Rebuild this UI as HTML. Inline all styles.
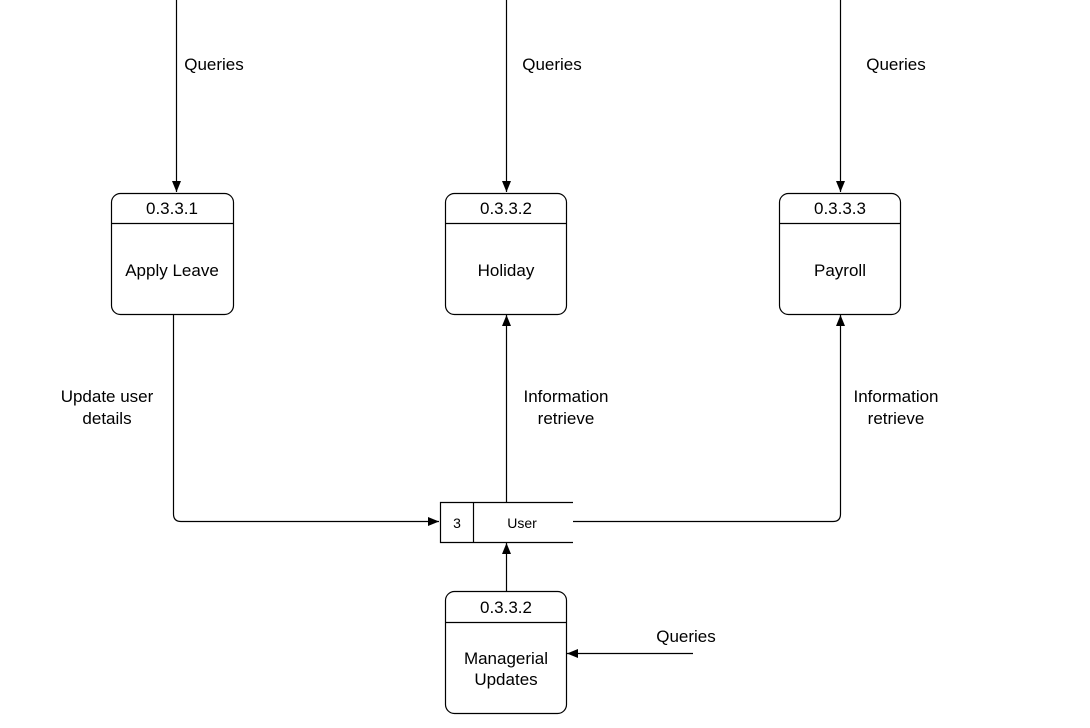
<!DOCTYPE html>
<html><head><meta charset="utf-8"><style>
html,body{margin:0;padding:0;background:#fff;}
svg{display:block;}
text{font-family:"Liberation Sans",Arial,sans-serif;fill:#000;}
</style></head><body>
<svg width="1090" height="728" viewBox="0 0 1090 728" xmlns="http://www.w3.org/2000/svg">
<defs>
<marker id="a" markerWidth="11" markerHeight="9" refX="11" refY="4.5" orient="auto" markerUnits="userSpaceOnUse">
<path d="M0,0 L11,4.5 L0,9 z" fill="#000"/></marker>
</defs>
<g fill="none" stroke="#000" stroke-width="1.2">
<line x1="176.5" y1="0" x2="176.5" y2="192" marker-end="url(#a)"/>
<line x1="506.5" y1="0" x2="506.5" y2="192" marker-end="url(#a)"/>
<line x1="840.5" y1="0" x2="840.5" y2="192" marker-end="url(#a)"/>
<rect x="111.5" y="193.5" width="122" height="121" rx="9"/>
<line x1="111.5" y1="223.5" x2="233.5" y2="223.5"/>
<rect x="445.5" y="193.5" width="121" height="121" rx="9"/>
<line x1="445.5" y1="223.5" x2="566.5" y2="223.5"/>
<rect x="779.5" y="193.5" width="121" height="121" rx="9"/>
<line x1="779.5" y1="223.5" x2="900.5" y2="223.5"/>
<rect x="445.5" y="591.5" width="121" height="122" rx="9"/>
<line x1="445.5" y1="622.5" x2="566.5" y2="622.5"/>
<path d="M173.5,314 V514 Q173.5,521.5 181,521.5 H439" marker-end="url(#a)"/>
<line x1="506.5" y1="502" x2="506.5" y2="315" marker-end="url(#a)"/>
<path d="M573,521.5 H833 Q840.5,521.5 840.5,514 V315" marker-end="url(#a)"/>
<line x1="506.5" y1="591" x2="506.5" y2="543" marker-end="url(#a)"/>
<line x1="693" y1="653.5" x2="567" y2="653.5" marker-end="url(#a)"/>
<path d="M573,502.5 H440.5 V542.5 H573"/>
<line x1="473.5" y1="502.5" x2="473.5" y2="542.5"/>
</g>
<g font-size="17" text-anchor="middle">
<text x="214" y="70">Queries</text>
<text x="552" y="70">Queries</text>
<text x="896" y="70">Queries</text>
<text x="172" y="214">0.3.3.1</text>
<text x="506" y="214">0.3.3.2</text>
<text x="840" y="214">0.3.3.3</text>
<text x="172" y="276">Apply Leave</text>
<text x="506" y="276">Holiday</text>
<text x="840" y="276">Payroll</text>
<text x="107" y="402">Update user</text>
<text x="107" y="424">details</text>
<text x="566" y="402">Information</text>
<text x="566" y="424">retrieve</text>
<text x="896" y="402">Information</text>
<text x="896" y="424">retrieve</text>
<text x="506" y="613">0.3.3.2</text>
<text x="506" y="664">Managerial</text>
<text x="506" y="685">Updates</text>
<text x="686" y="642">Queries</text>
</g>
<g font-size="14" text-anchor="middle">
<text x="457" y="528">3</text>
<text x="522" y="528">User</text>
</g>
</svg>
</body></html>
